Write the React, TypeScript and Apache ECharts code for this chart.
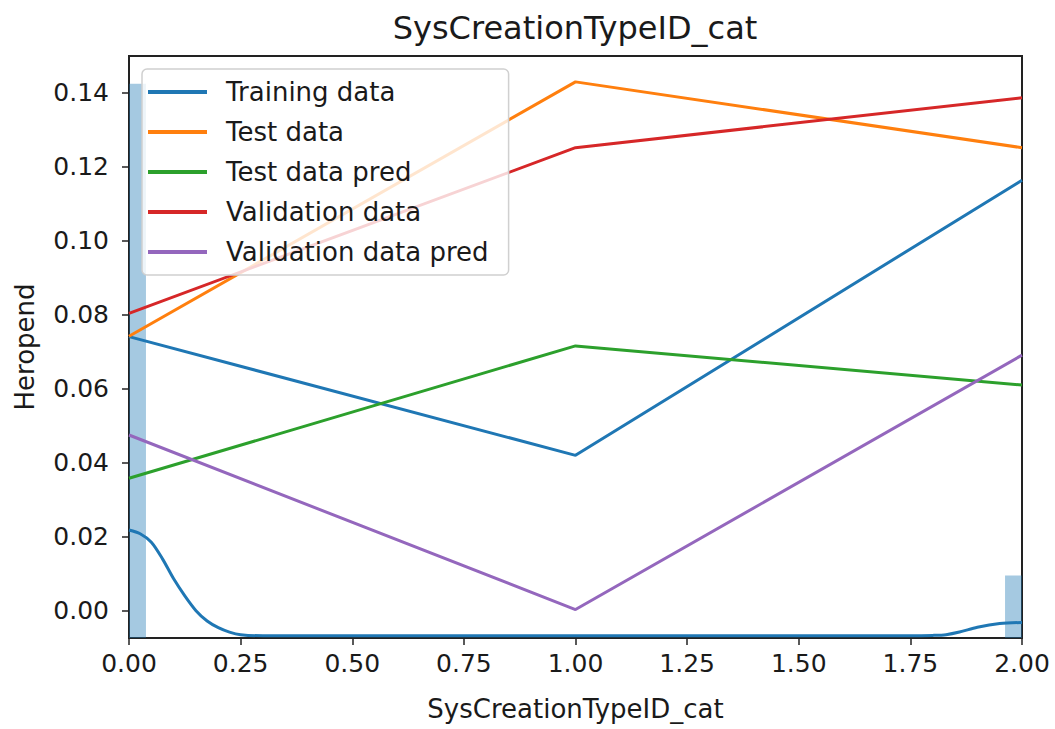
import React, { useEffect, useRef } from "react";
import * as echarts from "echarts";

// x positions of the categorical feature values
const xValues = [0, 1, 2];

// Mean target per category for each data split
const trainingData = [0.0741, 0.042, 0.1164];
const testData = [0.0742, 0.143, 0.1252];
const testDataPred = [0.0358, 0.0716, 0.061];
const validationData = [0.0804, 0.1252, 0.1387];
const validationDataPred = [0.0475, 0.0003, 0.0691];

// Density of the training feature (histogram bins: start, end, height)
const histBins = [
  [0, 0.038, 0.1425],
  [1.962, 2.0, 0.0095],
];

// Kernel density estimate of the training feature
const kdeX = [0, 0.025, 0.05, 0.075, 0.1, 0.125, 0.15, 0.175, 0.2, 0.225, 0.25, 0.3, 1.0, 1.75, 1.8, 1.83, 1.86, 1.9, 1.95, 2.0];
const kdeY = [0.0218, 0.0208, 0.0185, 0.014, 0.0086, 0.004, 0.0, -0.0028, -0.0046, -0.0058, -0.0065, -0.0068, -0.0068, -0.0068, -0.0067, -0.0065, -0.0058, -0.0045, -0.0035, -0.0032];

const yTicks = [0, 0.02, 0.04, 0.06, 0.08, 0.1, 0.12, 0.14];

const Y_MIN = -0.0074;
const Y_MAX = 0.15;

const FONT = "DejaVu Sans";
const TEXT = "#1a1a1a";

const seriesDefs = [
  { name: "Training data", data: trainingData, color: "#1f77b4" },
  { name: "Test data", data: testData, color: "#ff7f0e" },
  { name: "Test data pred", data: testDataPred, color: "#2ca02c" },
  { name: "Validation data", data: validationData, color: "#d62728" },
  { name: "Validation data pred", data: validationDataPred, color: "#9467bd" },
];

export default function App() {
  const ref = useRef<HTMLDivElement>(null);

  useEffect(() => {
    if (!ref.current) return;
    const chart = echarts.init(ref.current, undefined, { renderer: "svg" });

    const lineSeries = seriesDefs.map((s) => ({
      name: s.name,
      type: "line",
      data: xValues.map((x, i) => [x, s.data[i]]),
      symbol: "none",
      lineStyle: { color: s.color, width: 3 },
      itemStyle: { color: s.color },
      z: 3,
    }));

    chart.setOption({
      animation: false,
      title: {
        text: "SysCreationTypeID_cat",
        left: 575,
        top: 12,
        textAlign: "center",
        padding: 0,
        textStyle: { fontFamily: FONT, fontSize: 32, fontWeight: "normal", color: TEXT },
      },
      legend: {
        orient: "vertical",
        left: 142,
        top: 69,
        padding: [10, 20, 10, 6],
        icon: "rect",
        itemWidth: 59,
        itemHeight: 4,
        itemGap: 14,
        selectedMode: false,
        backgroundColor: "rgba(255,255,255,0.8)",
        borderColor: "#d0d0d0",
        borderWidth: 1.5,
        borderRadius: 5,
        data: seriesDefs.map((s) => s.name),
        textStyle: {
          fontFamily: FONT,
          fontSize: 26,
          lineHeight: 26,
          color: TEXT,
          padding: [0, 0, 0, 14],
        },
      },
      grid: {
        left: 129,
        right: 33,
        top: 56,
        bottom: 91,
        show: true,
        borderColor: "#222",
        borderWidth: 2,
        backgroundColor: "transparent",
      },
      xAxis: {
        type: "value",
        min: 0,
        max: 2,
        interval: 0.25,
        name: "SysCreationTypeID_cat",
        nameLocation: "middle",
        nameGap: 58,
        nameTextStyle: { fontFamily: FONT, fontSize: 26, color: TEXT },
        axisLine: { show: true, onZero: false, lineStyle: { color: "#222", width: 2 } },
        axisTick: { show: true, length: 7, lineStyle: { color: "#222", width: 1.5 } },
        splitLine: { show: false },
        axisLabel: {
          fontFamily: FONT,
          fontSize: 25,
          color: TEXT,
          margin: 13,
          formatter: (v: number) => v.toFixed(2),
        },
      },
      yAxis: {
        type: "value",
        min: Y_MIN,
        max: Y_MAX,
        name: "Heropend",
        nameLocation: "middle",
        nameGap: 91,
        nameTextStyle: { fontFamily: FONT, fontSize: 26, color: TEXT },
        axisLine: { show: true, onZero: false, lineStyle: { color: "#222", width: 2 } },
        axisTick: {
          show: true,
          length: 7,
          lineStyle: { color: "#222", width: 1.5 },
          customValues: yTicks,
        },
        splitLine: { show: false },
        axisLabel: {
          fontFamily: FONT,
          fontSize: 25,
          color: TEXT,
          margin: 20,
          customValues: yTicks,
          formatter: (v: number) => v.toFixed(2),
        },
      },
      series: [
        {
          name: "hist",
          type: "custom",
          data: histBins,
          encode: { x: [0, 1], y: 2 },
          z: 1,
          renderItem: (_params: any, api: any) => {
            const p0 = api.coord([api.value(0), api.value(2)]);
            const p1 = api.coord([api.value(1), Y_MIN]);
            return {
              type: "rect",
              shape: { x: p0[0], y: p0[1], width: p1[0] - p0[0], height: p1[1] - p0[1] },
              style: { fill: "rgba(31,119,180,0.4)" },
            };
          },
        },
        {
          name: "kde",
          type: "line",
          data: kdeX.map((x, i) => [x, kdeY[i]]),
          symbol: "none",
          smooth: 0.3,
          lineStyle: { color: "#1f77b4", width: 3 },
          itemStyle: { color: "#1f77b4" },
          z: 2,
        },
        ...lineSeries,
      ],
    });

    return () => chart.dispose();
  }, []);

  return (
    <div
      ref={ref}
      style={{ position: "absolute", left: 0, top: 0, width: 1055, height: 729, background: "#fff" }}
    />
  );
}
